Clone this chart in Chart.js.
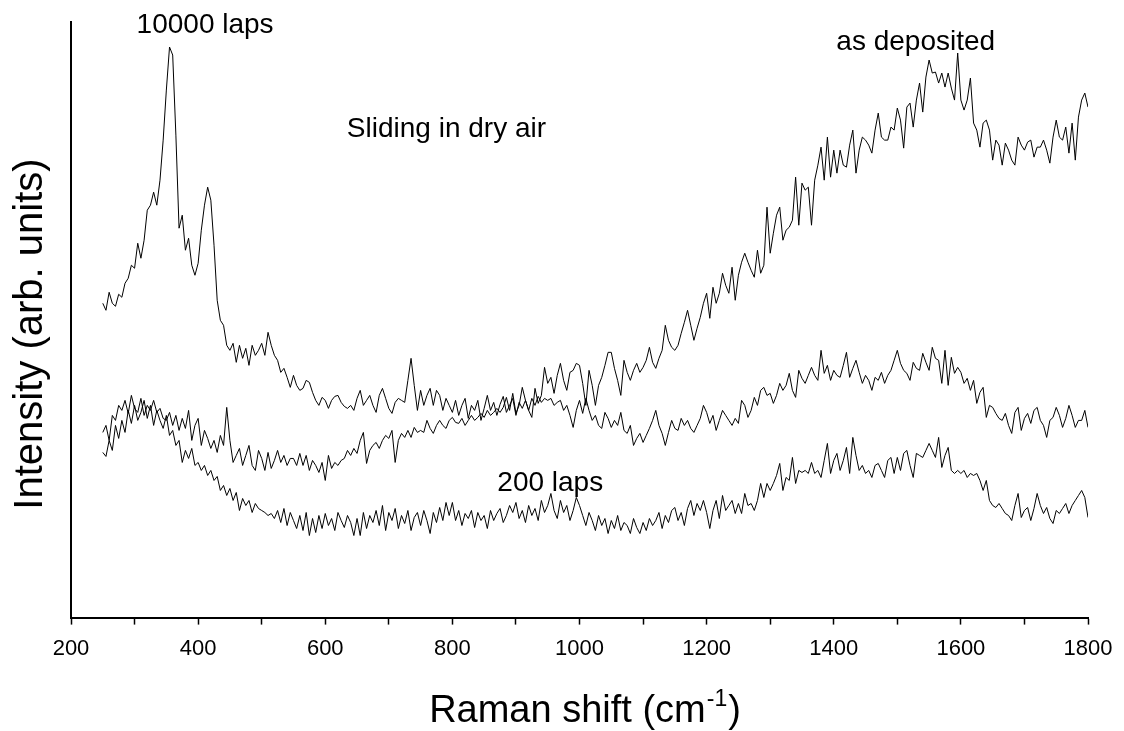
<!DOCTYPE html>
<html>
<head>
<meta charset="utf-8">
<title>Raman spectra</title>
<script src="https://cdn.jsdelivr.net/npm/chart.js@4.4.1/dist/chart.umd.min.js"></script>
<style>
  html, body { margin: 0; padding: 0; background: #fff; }
  #spectra { display: block; }
</style>
</head>
<body>
<canvas id="spectra" width="1124" height="731"></canvas>
<script>
// Raman shift (cm-1), one reading every 5 cm-1
const ramanShift = [
  250, 255, 260, 265, 270, 275, 280, 285, 290, 295,
  300, 305, 310, 315, 320, 325, 330, 335, 340, 345,
  350, 355, 360, 365, 370, 375, 380, 385, 390, 395,
  400, 405, 410, 415, 420, 425, 430, 435, 440, 445,
  450, 455, 460, 465, 470, 475, 480, 485, 490, 495,
  500, 505, 510, 515, 520, 525, 530, 535, 540, 545,
  550, 555, 560, 565, 570, 575, 580, 585, 590, 595,
  600, 605, 610, 615, 620, 625, 630, 635, 640, 645,
  650, 655, 660, 665, 670, 675, 680, 685, 690, 695,
  700, 705, 710, 715, 720, 725, 730, 735, 740, 745,
  750, 755, 760, 765, 770, 775, 780, 785, 790, 795,
  800, 805, 810, 815, 820, 825, 830, 835, 840, 845,
  850, 855, 860, 865, 870, 875, 880, 885, 890, 895,
  900, 905, 910, 915, 920, 925, 930, 935, 940, 945,
  950, 955, 960, 965, 970, 975, 980, 985, 990, 995,
  1000, 1005, 1010, 1015, 1020, 1025, 1030, 1035, 1040, 1045,
  1050, 1055, 1060, 1065, 1070, 1075, 1080, 1085, 1090, 1095,
  1100, 1105, 1110, 1115, 1120, 1125, 1130, 1135, 1140, 1145,
  1150, 1155, 1160, 1165, 1170, 1175, 1180, 1185, 1190, 1195,
  1200, 1205, 1210, 1215, 1220, 1225, 1230, 1235, 1240, 1245,
  1250, 1255, 1260, 1265, 1270, 1275, 1280, 1285, 1290, 1295,
  1300, 1305, 1310, 1315, 1320, 1325, 1330, 1335, 1340, 1345,
  1350, 1355, 1360, 1365, 1370, 1375, 1380, 1385, 1390, 1395,
  1400, 1405, 1410, 1415, 1420, 1425, 1430, 1435, 1440, 1445,
  1450, 1455, 1460, 1465, 1470, 1475, 1480, 1485, 1490, 1495,
  1500, 1505, 1510, 1515, 1520, 1525, 1530, 1535, 1540, 1545,
  1550, 1555, 1560, 1565, 1570, 1575, 1580, 1585, 1590, 1595,
  1600, 1605, 1610, 1615, 1620, 1625, 1630, 1635, 1640, 1645,
  1650, 1655, 1660, 1665, 1670, 1675, 1680, 1685, 1690, 1695,
  1700, 1705, 1710, 1715, 1720, 1725, 1730, 1735, 1740, 1745,
  1750, 1755, 1760, 1765, 1770, 1775, 1780, 1785, 1790, 1795,
  1800
];

// intensity (arb. units)
const laps10000 = [
  314, 307, 325, 314, 311, 323, 320, 334, 339, 352,
  349, 374, 359, 377, 407, 412, 425, 412, 437, 477,
  527, 570, 562, 482, 389, 402, 367, 379, 352, 342,
  354, 387, 412, 430, 417, 372, 317, 297, 292, 272,
  267, 274, 255, 272, 259, 269, 252, 272, 262, 267,
  274, 262, 285, 272, 262, 257, 245, 249, 240, 230,
  242, 232, 227, 229, 237, 235, 225, 217, 212, 220,
  217, 209, 217, 221, 222, 215, 211, 209, 212, 207,
  219, 227, 212, 217, 222, 212, 205, 222, 229, 219,
  209, 204, 215, 219, 217, 215, 237, 259, 232, 207,
  227, 212, 222, 229, 212, 227, 222, 207, 219, 212,
  205, 217, 202, 212, 219, 199, 212, 207, 217, 197,
  209, 222, 207, 215, 202, 213, 221, 205, 212, 219,
  202, 215, 209, 217, 207, 219, 212, 221, 215, 219,
  217, 219, 212, 215, 217, 207, 212, 202, 190, 207,
  217, 204, 219, 207, 197, 202, 192, 189, 205, 199,
  190, 197, 192, 205, 187, 184, 192, 172, 179, 184,
  175, 182, 189, 197, 207, 192, 184, 172, 185, 197,
  189, 187, 199, 192, 197, 189, 185, 192, 199, 212,
  205, 194, 202, 187, 197, 207, 202, 197, 192, 199,
  194, 217, 212, 200, 207, 220, 212, 227, 230, 222,
  224, 214, 222, 234, 227, 232, 244, 227, 220, 247,
  239, 234, 242, 250, 242, 237, 267, 244, 252, 237,
  247, 242, 240, 252, 265, 240, 249, 257, 245, 234,
  242, 237, 227, 240, 237, 245, 234, 242, 247, 257,
  267, 254, 247, 244, 237, 255, 249, 247, 264, 255,
  247, 270, 259, 257, 234, 267, 232, 260, 244, 250,
  245, 234, 239, 227, 237, 214, 225, 230, 200, 212,
  210, 204, 199, 197, 204, 192, 184, 205, 210, 187,
  199, 204, 194, 207, 210, 197, 192, 180, 197, 200,
  210, 202, 190, 199, 212, 202, 190, 197, 197, 207,
  190
];

const asDeposited = [
  185, 192, 177, 202, 197, 212, 207, 217, 204, 222,
  209, 205, 219, 202, 212, 207, 217, 205, 209, 199,
  197, 205, 192, 202, 187, 199, 189, 207, 177, 192,
  199, 172, 187, 179, 169, 177, 165, 182, 172, 210,
  177, 155, 162, 169, 152, 162, 172, 152, 147, 167,
  159, 147, 165, 149, 157, 167, 155, 162, 152, 159,
  159, 152, 164, 152, 162, 147, 157, 152, 145, 155,
  137, 162, 149, 155, 152, 157, 159, 167, 162, 169,
  164, 177, 185, 154, 167, 172, 175, 169, 177, 182,
  179, 187, 155, 177, 184, 180, 187, 180, 190, 185,
  187, 185, 197, 189, 184, 192, 197, 192, 189, 197,
  200, 195, 194, 199, 192, 197, 202, 197, 200, 204,
  200, 207, 202, 205, 209, 205, 210, 220, 207, 224,
  204, 212, 230, 217, 207, 200, 229, 214, 222, 250,
  234, 240, 224, 242, 254, 237, 227, 245, 247, 254,
  252, 234, 212, 247, 232, 212, 232, 240, 252, 265,
  265, 249, 237, 222, 257, 245, 237, 247, 254, 245,
  250, 257, 270, 255, 249, 259, 267, 292, 277, 270,
  267, 272, 284, 295, 307, 292, 277, 289, 300, 314,
  324, 299, 330, 314, 324, 344, 332, 324, 350, 317,
  342, 355, 364, 355, 347, 340, 367, 344, 352, 410,
  364, 384, 402, 410, 377, 387, 390, 397, 440, 392,
  434, 427, 430, 392, 437, 452, 470, 437, 480, 440,
  467, 444, 467, 452, 450, 472, 487, 444, 467, 480,
  477, 472, 464, 487, 504, 480, 477, 477, 490, 487,
  509, 497, 469, 510, 514, 490, 517, 534, 505, 540,
  557, 544, 545, 534, 544, 530, 544, 529, 517, 564,
  517, 507, 517, 539, 494, 487, 470, 494, 497, 487,
  457, 477, 472, 452, 474, 467, 457, 452, 480, 472,
  467, 475, 477, 460, 470, 470, 477, 467, 454, 480,
  497, 480, 477, 490, 464, 494, 457, 500, 517, 524,
  510
];

const laps200 = [
  165, 161, 177, 167, 192, 179, 197, 185, 207, 194,
  212, 197, 205, 217, 199, 212, 192, 207, 197, 189,
  202, 182, 187, 172, 177, 155, 167, 159, 169, 152,
  155, 147, 152, 142, 147, 137, 141, 127, 132, 122,
  129, 117, 125, 107, 119, 112, 117, 105, 114, 109,
  107, 105, 102, 104, 99, 107, 95, 109, 92, 105,
  97, 89, 102, 87, 105, 82, 99, 85, 102, 89,
  104, 92, 99, 87, 105, 97, 90, 102, 95, 82,
  99, 82, 105, 89, 102, 95, 107, 92, 112, 87,
  105, 97, 109, 89, 102, 94, 107, 87, 100, 105,
  92, 107, 97, 84, 105, 95, 110, 97, 115, 102,
  115, 97, 107, 92, 104, 99, 107, 90, 105, 97,
  102, 89, 107, 97, 104, 109, 95, 102, 112, 105,
  115, 99, 107, 95, 112, 102, 109, 97, 117, 105,
  112, 124, 107, 99, 117, 105, 112, 97, 107, 120,
  112, 102, 92, 105, 97, 87, 102, 92, 99, 84,
  97, 89, 102, 87, 95, 92, 84, 99, 90, 84,
  95, 87, 99, 92, 97, 105, 89, 102, 95, 107,
  110, 97, 105, 92, 109, 117, 102, 114, 107, 117,
  105, 89, 107, 117, 99, 122, 107, 112, 117, 104,
  114, 104, 124, 112, 114, 107, 117, 134, 120, 134,
  127, 134, 142, 154, 127, 140, 137, 160, 134, 147,
  145, 147, 144, 155, 144, 147, 140, 157, 174, 144,
  157, 164, 147, 157, 170, 144, 180, 162, 147, 152,
  144, 147, 140, 152, 154, 147, 140, 157, 160, 144,
  160, 147, 164, 167, 152, 140, 164, 162, 160, 167,
  174, 167, 160, 180, 150, 162, 170, 147, 144, 147,
  144, 147, 140, 144, 142, 144, 137, 127, 137, 117,
  112, 110, 114, 109, 104, 102, 97, 112, 124, 100,
  107, 110, 97, 109, 124, 112, 104, 110, 99, 94,
  107, 104, 109, 114, 104, 112, 117, 122, 127, 120,
  100
];

const majorTicks = [200, 400, 600, 800, 1000, 1200, 1400, 1600, 1800];
const seriesNames = ["10000 laps", "as deposited", "200 laps"];

const FONT = '"Liberation Sans", Arial, sans-serif';

function toPoints(values) {
  return ramanShift.map((x, i) => ({ x: x, y: values[i] }));
}

function spectrum(label, values) {
  return {
    label: label,
    data: toPoints(values),
    borderColor: "#000",
    borderWidth: 1,
    pointRadius: 0,
    fill: false,
    tension: 0,
  };
}

// curve labels and axis titles, placed in data coordinates
const textPlugin = {
  id: "texts",
  afterDraw(chart) {
    const ctx = chart.ctx;
    const xs = chart.scales.x;
    const ys = chart.scales.y;
    ctx.save();
    ctx.fillStyle = "#000";
    ctx.textBaseline = "alphabetic";
    ctx.font = "28px " + FONT;

    const notes = [
      { text: seriesNames[0], x: 411, y: 584, align: "center" },
      { text: "Sliding in dry air", x: 634, y: 480, align: "left" },
      { text: seriesNames[1], x: 1529, y: 567, align: "center" },
      { text: seriesNames[2], x: 954, y: 126, align: "center" },
    ];
    notes.forEach((n) => {
      ctx.textAlign = n.align;
      ctx.fillText(n.text, xs.getPixelForValue(n.x), ys.getPixelForValue(n.y));
    });

    // x title with superscript
    const big = "38px " + FONT;
    const small = "23px " + FONT;
    const main = "Raman shift (cm";
    ctx.font = big;
    const w1 = ctx.measureText(main).width;
    const w3 = ctx.measureText(")").width;
    ctx.font = small;
    const w2 = ctx.measureText("-1").width;
    let left = 584 - (w1 + w2 + w3) / 2;
    const base = 722;
    ctx.textAlign = "left";
    ctx.font = big;
    ctx.fillText(main, left, base);
    ctx.font = small;
    ctx.fillText("-1", left + w1 + 1, base - 16);
    ctx.font = big;
    ctx.fillText(")", left + w1 + w2 + 2, base);

    // y title
    ctx.translate(31, 334);
    ctx.rotate(-Math.PI / 2);
    ctx.textAlign = "center";
    ctx.textBaseline = "middle";
    ctx.font = "40px " + FONT;
    ctx.fillText("Intensity (arb. units)", 0, 0);
    ctx.restore();
  },
};

const config_spectra = {
  type: "line",
  data: {
    datasets: [
      spectrum(seriesNames[0], laps10000),
      spectrum(seriesNames[1], asDeposited),
      spectrum(seriesNames[2], laps200),
    ],
  },
  options: {
    responsive: false,
    animation: false,
    devicePixelRatio: 1,
    layout: {
      padding: { left: 63, right: 36, top: 22, bottom: 58 },
    },
    scales: {
      x: {
        type: "linear",
        min: 200,
        max: 1800,
        border: { display: true, color: "#000", width: 2 },
        grid: {
          display: true,
          drawOnChartArea: false,
          drawTicks: true,
          tickLength: 7,
          tickColor: "#000",
          tickWidth: 1.5,
        },
        ticks: {
          stepSize: 100,
          autoSkip: false,
          maxRotation: 0,
          padding: 11,
          color: "#000",
          font: { family: FONT, size: 22 },
          callback: (v) => (majorTicks.includes(v) ? String(v) : ""),
        },
      },
      y: {
        min: 0,
        max: 595,
        border: { display: true, color: "#000", width: 2 },
        grid: { display: false },
        ticks: { display: false },
      },
    },
    plugins: {
      legend: { display: false },
      tooltip: { enabled: false },
      title: { display: false },
    },
    elements: {
      point: { radius: 0 },
    },
  },
  plugins: [textPlugin],
};

const spectra = new Chart(document.getElementById("spectra"), config_spectra);
</script>
</body>
</html>
